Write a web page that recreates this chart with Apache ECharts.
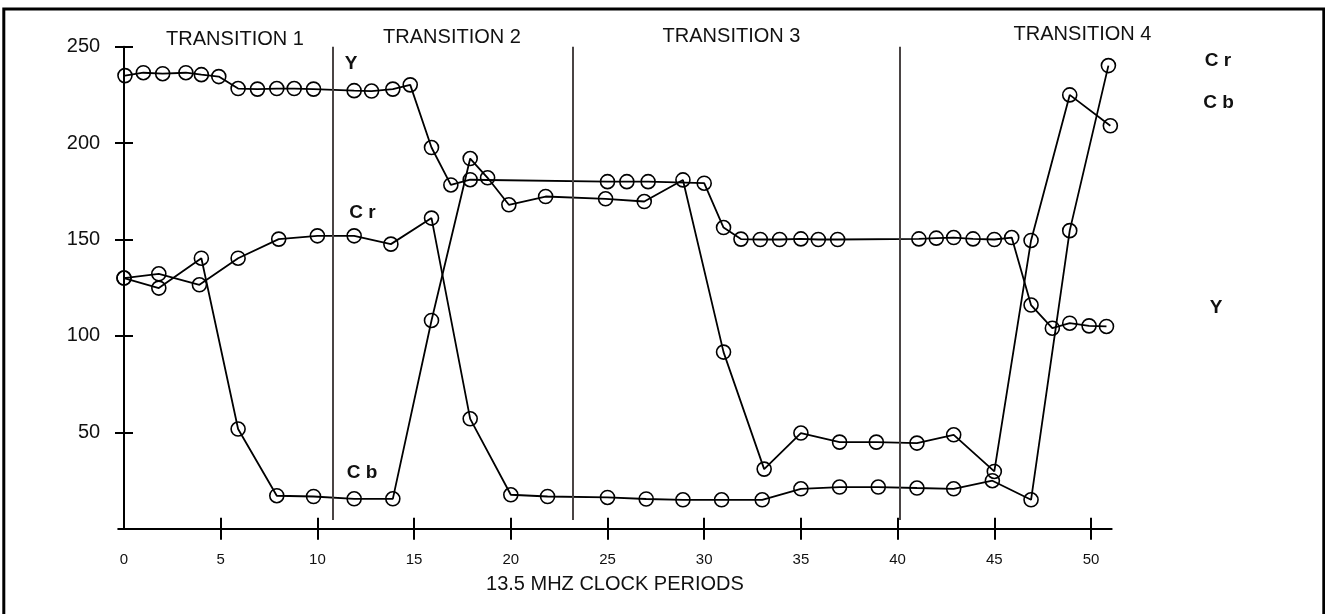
<!DOCTYPE html>
<html>
<head>
<meta charset="utf-8">
<script src="https://cdn.jsdelivr.net/npm/echarts@6/dist/echarts.min.js"></script>
<style>
html,body{margin:0;padding:0;background:#fff;}
#chart{width:1325px;height:614px;}
</style>
</head>
<body>
<div id="chart"></div>
<script>
// ---- data ----
const yX   = [0.05,1.0,2.0,3.2,4.0,4.9,5.9,6.9,7.9,8.8,9.8,11.9,12.8,13.9,14.8,15.9,16.9,17.9,25.0,26.0,27.1,30.0,31.0,31.9,32.9,33.9,35.0,35.9,36.9,41.1,42.0,42.9,43.9,45.0,45.9,46.9,48.0,48.9,49.9,50.8];
const yVal = [235,236.5,236,236.5,235.5,234.5,228.3,228,228.3,228.3,228,227.2,227,228,230.2,197.7,178.3,181,180,180,180,179.2,156.2,150.2,150,150,150.3,150,150,150.3,150.7,151,150.3,150,151,116,104,106.6,105.2,104.9];

const crX   = [0,1.8,3.9,5.9,8.0,10.0,11.9,13.8,15.9,17.9,20.0,21.9,25.0,27.0,28.9,30.9,33.0,35.0,37.0,39.0,41.0,42.9,44.9,46.9,48.9,50.9];
const crVal = [130,132.2,126.5,140.3,150.2,151.9,151.9,147.6,161.1,57,17.6,16.7,16.2,15.4,15,15,15,20.7,21.6,21.6,21.1,20.7,24.9,15,154.6,240.2];

const cbX   = [0,1.8,4.0,5.9,7.9,9.8,11.9,13.9,15.9,17.9,18.8,19.9,21.8,24.9,26.9,28.9,31.0,33.1,35.0,37.0,38.9,41.0,42.9,45.0,46.9,48.9,51.0];
const cbVal = [130,124.8,140.3,51.7,17.1,16.7,15.5,15.5,108,192,182,168,172.3,171.1,169.7,180.9,91.6,30.9,49.6,44.9,44.9,44.4,48.7,29.7,149.5,225,209];

const dividerX = [10.8, 23.2, 40.1];
const dividerSpan = [4.5, 250];

const xTickValues  = [5,10,15,20,25,30,35,40,45,50];
const xLabelValues = [0,5,10,15,20,25,30,35,40,45,50];
const yTickValues  = [50,100,150,200,250];
const transitionNames = ['TRANSITION 1','TRANSITION 2','TRANSITION 3','TRANSITION 4'];
const xName = '13.5 MHZ CLOCK PERIODS';

// ---- build ----
const pairs = (xs, ys) => xs.map((x, i) => [x, ys[i]]);
const FONT = '"Liberation Sans", Arial, Helvetica, sans-serif';

const chart = echarts.init(document.getElementById('chart'), null, {renderer: 'canvas'});

function lineSeries(name, xs, ys, extra) {
  return Object.assign({
    name: name,
    type: 'line',
    data: pairs(xs, ys),
    symbol: 'circle',
    symbolSize: 14,
    showAllSymbol: true,
    clip: true,
    animation: false,
    lineStyle: {color: '#000', width: 1.8},
    itemStyle: {color: 'rgba(255,255,255,0)', borderColor: '#000', borderWidth: 1.6},
    emphasis: {disabled: true},
    z: 3
  }, extra || {});
}

const option = {
  animation: false,
  backgroundColor: '#fff',
  textStyle: {fontFamily: FONT},
  grid: {left: 118.2, right: 213.3, top: 46.7, bottom: 85.3, containLabel: false},
  xAxis: [
    {
      type: 'value', min: -0.3, max: 51.07,
      name: xName, nameLocation: 'middle', nameGap: 46,
      nameTextStyle: {fontSize: 20, color: '#111', fontFamily: FONT},
      axisLine: {show: true, onZero: true, lineStyle: {color: '#000', width: 2}},
      axisTick: {show: true, inside: false, length: 11, customValues: xTickValues, lineStyle: {color: '#000', width: 2}},
      axisLabel: {show: true, customValues: xLabelValues, margin: 24, fontSize: 15, color: '#111', fontFamily: FONT},
      splitLine: {show: false}
    },
    {
      type: 'value', min: -0.3, max: 51.07, position: 'bottom',
      axisLine: {show: false, onZero: true},
      axisTick: {show: true, inside: true, length: 11, customValues: xTickValues, lineStyle: {color: '#000', width: 2}},
      axisLabel: {show: false},
      splitLine: {show: false}
    }
  ],
  yAxis: [
    {
      type: 'value', min: 0, max: 250, position: 'left',
      axisLine: {show: true, onZero: true, lineStyle: {color: '#000', width: 2}},
      axisTick: {show: true, inside: false, length: 9, customValues: yTickValues, lineStyle: {color: '#000', width: 2}},
      axisLabel: {show: true, customValues: yTickValues, margin: 18, fontSize: 20, color: '#111', fontFamily: FONT},
      splitLine: {show: false}
    },
    {
      type: 'value', min: 0, max: 250, position: 'left',
      axisLine: {show: false, onZero: true},
      axisTick: {show: true, inside: true, length: 9, customValues: yTickValues, lineStyle: {color: '#000', width: 2}},
      axisLabel: {show: false},
      splitLine: {show: false}
    }
  ],
  series: [
    lineSeries('Y', yX, yVal, {
      markLine: {
        silent: true, symbol: 'none', animation: false,
        label: {show: false},
        lineStyle: {color: '#4a4444', width: 2, type: 'solid'},
        data: dividerX.map(x => [{coord: [x, dividerSpan[0]]}, {coord: [x, dividerSpan[1]]}])
      }
    }),
    lineSeries('Cr', crX, crVal),
    lineSeries('Cb', cbX, cbVal)
  ],
  graphic: [
    {type: 'rect', shape: {x: 3.8, y: 9, width: 1320, height: 700}, style: {fill: 'none', stroke: '#000', lineWidth: 3}, silent: true, z: 10},
    {type: 'text', x: 235, y: 39.5, style: {text: transitionNames[0], font: '20px ' + FONT, fill: '#111', align: 'center', verticalAlign: 'middle'}},
    {type: 'text', x: 452, y: 37.5, style: {text: transitionNames[1], font: '20px ' + FONT, fill: '#111', align: 'center', verticalAlign: 'middle'}},
    {type: 'text', x: 731.5, y: 36, style: {text: transitionNames[2], font: '20px ' + FONT, fill: '#111', align: 'center', verticalAlign: 'middle'}},
    {type: 'text', x: 1082.5, y: 34, style: {text: transitionNames[3], font: '20px ' + FONT, fill: '#111', align: 'center', verticalAlign: 'middle'}},
    {type: 'text', x: 351, y: 64, style: {text: 'Y', font: 'bold 19px ' + FONT, fill: '#111', align: 'center', verticalAlign: 'middle'}},
    {type: 'text', x: 362.5, y: 212.5, style: {text: 'C r', font: 'bold 19px ' + FONT, fill: '#111', align: 'center', verticalAlign: 'middle'}},
    {type: 'text', x: 362, y: 473, style: {text: 'C b', font: 'bold 19px ' + FONT, fill: '#111', align: 'center', verticalAlign: 'middle'}},
    {type: 'text', x: 1218, y: 60.5, style: {text: 'C r', font: 'bold 19px ' + FONT, fill: '#111', align: 'center', verticalAlign: 'middle'}},
    {type: 'text', x: 1218.5, y: 103, style: {text: 'C b', font: 'bold 19px ' + FONT, fill: '#111', align: 'center', verticalAlign: 'middle'}},
    {type: 'text', x: 1216, y: 308, style: {text: 'Y', font: 'bold 19px ' + FONT, fill: '#111', align: 'center', verticalAlign: 'middle'}}
  ]
};
chart.setOption(option);
</script>
</body>
</html>
